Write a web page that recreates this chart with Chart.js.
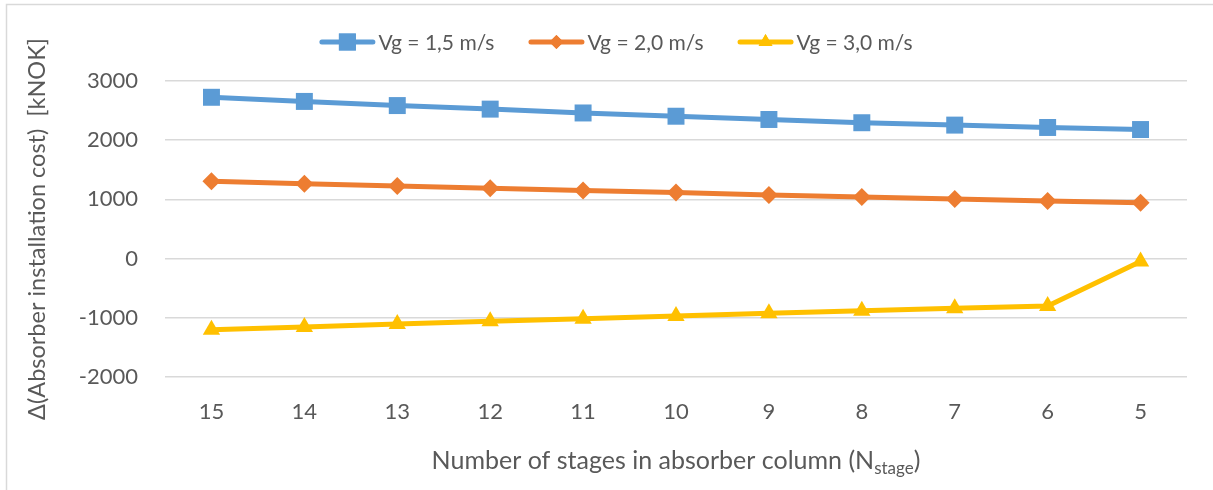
<!DOCTYPE html>
<html>
<head>
<meta charset="utf-8">
<script src="https://cdn.jsdelivr.net/npm/chart.js@4/dist/chart.umd.min.js"></script>
<style>
  html, body { margin: 0; padding: 0; background: #ffffff; }
  #wrap { position: relative; width: 1213px; height: 490px; }
  canvas { display: block; }
</style>
</head>
<body>
<div id="wrap"><canvas id="c" width="1213" height="490"></canvas></div>
<script>
// Number of stages (x categories, descending)
const stages = ['15', '14', '13', '12', '11', '10', '9', '8', '7', '6', '5'];

// Δ(Absorber installation cost) in kNOK per gas velocity
const vg15 = [2725, 2655, 2585, 2525, 2460, 2405, 2350, 2295, 2255, 2215, 2180];
const vg20 = [1305, 1265, 1225, 1190, 1150, 1115, 1075, 1040, 1005, 975, 945];
const vg30 = [-1200, -1155, -1105, -1060, -1015, -970, -925, -880, -840, -800, -50];

const seriesNames = ['Vg = 1,5 m/s', 'Vg = 2,0 m/s', 'Vg = 3,0 m/s'];
const yTicks = [-2000, -1000, 0, 1000, 2000, 3000];

const TEXT = '#595959';
const GRID = '#D9D9D9';
const FONT = 'Lato, "Open Sans", sans-serif';

function ds(label, data, color, style, radius, legendRadius) {
  return {
    label, data,
    borderColor: color, backgroundColor: color,
    borderWidth: 5,
    pointStyle: style, pointRadius: radius, pointHoverRadius: radius,
    pointBorderWidth: 0,
    legendRadius,
    tension: 0
  };
}

// Outer frame of the chart area (top and left edges visible)
const framePlugin = {
  id: 'frame',
  beforeDraw(chart) {
    const ctx = chart.ctx;
    ctx.save();
    ctx.strokeStyle = GRID;
    ctx.lineWidth = 1.5;
    ctx.strokeRect(6.5, 4.5, 1300, 600);
    ctx.restore();
  }
};

// Legend with line + marker samples, drawn above the plot
const legendPlugin = {
  id: 'lineLegend',
  afterDraw(chart) {
    const ctx = chart.ctx;
    ctx.save();
    ctx.font = '21px ' + FONT;
    const sample = 56, gapText = 3, gapItem = 34, cy = 42;
    const items = chart.data.datasets.map(d => ({ d, tw: ctx.measureText(d.label).width }));
    const total = items.reduce((s, it) => s + sample + gapText + it.tw, 0) + gapItem * (items.length - 1);
    let x = 616 - total / 2;
    items.forEach(({ d, tw }) => {
      ctx.strokeStyle = d.borderColor;
      ctx.lineWidth = 5;
      ctx.lineCap = 'round';
      ctx.beginPath();
      ctx.moveTo(x + 2.5, cy);
      ctx.lineTo(x + sample - 2.5, cy);
      ctx.stroke();
      ctx.fillStyle = d.backgroundColor;
      Chart.helpers.drawPoint(ctx, {
        pointStyle: d.pointStyle, radius: d.legendRadius, borderWidth: 0
      }, x + sample / 2, cy);
      ctx.fill();
      ctx.fillStyle = TEXT;
      ctx.textBaseline = 'middle';
      ctx.textAlign = 'left';
      ctx.fillText(d.label, x + sample + gapText, cy + 1);
      x += sample + gapText + tw + gapItem;
    });
    ctx.restore();
  }
};

// X-axis title with subscript
const xTitlePlugin = {
  id: 'xTitle',
  afterDraw(chart) {
    const ctx = chart.ctx;
    const area = chart.chartArea;
    ctx.save();
    ctx.fillStyle = TEXT;
    ctx.textBaseline = 'alphabetic';
    ctx.textAlign = 'left';
    const big = '25px ' + FONT, small = '17px ' + FONT;
    const p1 = 'Number of stages in absorber column (N', sub = 'stage', p2 = ')';
    ctx.font = big; const w1 = ctx.measureText(p1).width, w3 = ctx.measureText(p2).width;
    ctx.font = small; const w2 = ctx.measureText(sub).width;
    let x = (area.left + area.right) / 2 - (w1 + w2 + w3) / 2;
    const base = 469;
    ctx.font = big; ctx.fillText(p1, x, base); x += w1;
    ctx.font = small; ctx.fillText(sub, x, base + 5); x += w2;
    ctx.font = big; ctx.fillText(p2, x, base);
    ctx.restore();
  }
};

new Chart(document.getElementById('c'), {
  type: 'line',
  data: {
    labels: stages,
    datasets: [
      ds(seriesNames[0], vg15, '#5B9BD5', 'rect', 12, 12),
      ds(seriesNames[1], vg20, '#ED7D31', 'rectRot', 9, 7),
      ds(seriesNames[2], vg30, '#FFC000', 'triangle', 10, 8)
    ]
  },
  options: {
    responsive: false,
    animation: false,
    layout: { padding: { left: 0, right: 26, top: 81, bottom: 0 } },
    plugins: {
      legend: { display: false },
      tooltip: { enabled: false },
      title: { display: false }
    },
    scales: {
      x: {
        offset: true,
        grid: { display: false, drawTicks: false },
        border: { display: false },
        ticks: { color: TEXT, font: { family: FONT, size: 22 }, padding: 22 },
        afterFit(scale) { scale.height = 490 - 377; }
      },
      y: {
        min: -2000, max: 3000,
        afterBuildTicks(scale) { scale.ticks = yTicks.map(v => ({ value: v })); },
        grid: { color: GRID, lineWidth: 1.5, drawTicks: false },
        border: { display: false },
        ticks: {
          color: TEXT, font: { family: FONT, size: 22 }, padding: 27,
          callback: v => String(v)
        },
        title: {
          display: true,
          text: 'Δ(Absorber installation cost)  [kNOK]',
          color: TEXT,
          font: { family: FONT, size: 23.5 },
          padding: { top: 23, bottom: 0 }
        },
        afterFit(scale) { scale.width = 165; }
      }
    }
  },
  plugins: [framePlugin, legendPlugin, xTitlePlugin]
});
</script>
</body>
</html>
